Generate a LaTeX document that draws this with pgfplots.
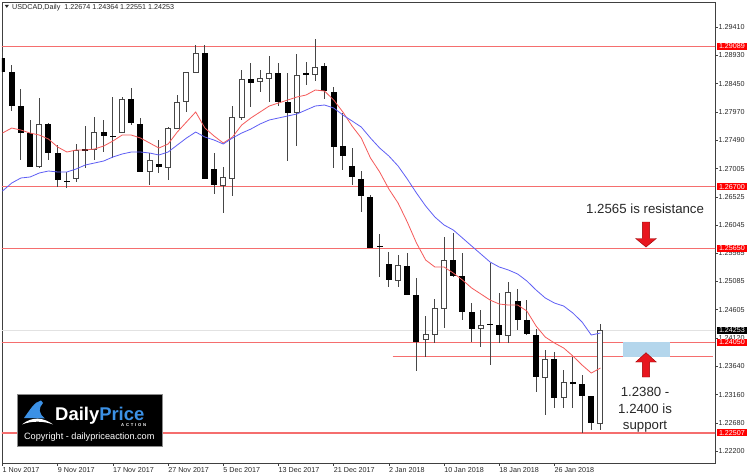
\documentclass[border=0pt]{standalone}
\usepackage{pgfplots}
\pgfplotsset{compat=1.18}
\usepackage{pgfplotstable}
\usepackage{fontspec}
\setmainfont{Liberation Sans}
\definecolor{hl}{RGB}{245,110,110}
\definecolor{mared}{RGB}{245,90,90}
\definecolor{mablue}{RGB}{95,95,245}
\definecolor{wick}{RGB}{70,70,70}
\definecolor{zone}{RGB}{180,214,236}
\definecolor{arrowred}{RGB}{232,22,30}
\definecolor{logoblue}{RGB}{60,145,230}
\definecolor{txt}{RGB}{40,40,40}
\definecolor{pline}{RGB}{226,226,226}
\pgfplotsset{nomarks/.style={only marks, mark=o, mark size=0.5pt, mark options={opacity=0, draw opacity=0, fill opacity=0}}}

% falling (black) candles: bar index, open, high, low, close
\pgfplotstableread{
i o h l c
0 1.28888 1.28990 1.28547 1.28649
1 1.28649 1.28769 1.27986 1.28071
2 1.28071 1.28360 1.27152 1.27611
3 1.27611 1.27833 1.27033 1.27033
5 1.27765 1.27780 1.27152 1.27271
6 1.27271 1.27407 1.26692 1.26812
7 1.26800 1.26948 1.26675 1.26785
9 1.27330 1.27730 1.27016 1.27315
11 1.27628 1.27833 1.27288 1.27560
12 1.27565 1.28224 1.27186 1.27555
14 1.28190 1.28377 1.27747 1.27782
15 1.27765 1.27867 1.26948 1.26948
17 1.27084 1.27492 1.26931 1.27033
22 1.28973 1.29109 1.26829 1.26829
23 1.26999 1.27271 1.26573 1.26726
27 1.28530 1.28803 1.28054 1.28462
30 1.28632 1.28803 1.28071 1.28139
31 1.28139 1.28632 1.27135 1.27952
33 1.28625 1.28820 1.28428 1.28615
35 1.28752 1.28803 1.28190 1.28326
36 1.28309 1.28394 1.27016 1.27373
37 1.27390 1.27952 1.26982 1.27220
38 1.27050 1.27356 1.26726 1.26863
39 1.26829 1.26965 1.26267 1.26539
40 1.26522 1.26556 1.25654 1.25654
41 1.25695 1.25893 1.25161 1.25680
42 1.25382 1.25586 1.24991 1.25110
44 1.25348 1.25569 1.24855 1.24855
45 1.24855 1.25144 1.23561 1.24055
49 1.25450 1.25910 1.25161 1.25178
50 1.25178 1.25569 1.24429 1.24565
51 1.24565 1.24718 1.24055 1.24276
53 1.24368 1.25399 1.23663 1.24355
54 1.24344 1.24889 1.24038 1.24174
56 1.24752 1.24957 1.24259 1.24429
57 1.24429 1.24769 1.24174 1.24191
58 1.24174 1.24276 1.23204 1.23459
60 1.23766 1.23885 1.22932 1.23102
62 1.23364 1.23800 1.22932 1.23350
63 1.23340 1.23493 1.22507 1.23136
64 1.23136 1.23136 1.22557 1.22676
}\bcandles

% rising (white) candles: bar index, open, high, low, close
\pgfplotstableread{
i o h l c
4 1.27033 1.28207 1.27016 1.27765
8 1.26829 1.27424 1.26778 1.27322
10 1.27322 1.27884 1.27152 1.27628
13 1.27628 1.28224 1.27628 1.28190
16 1.26948 1.27271 1.26726 1.27152
18 1.27033 1.27713 1.26812 1.27696
19 1.27696 1.28258 1.27696 1.28139
20 1.28139 1.28649 1.27969 1.28649
21 1.28649 1.29109 1.28649 1.28973
24 1.26726 1.27033 1.26250 1.26863
25 1.26846 1.28071 1.26539 1.27884
26 1.27884 1.28683 1.27833 1.28530
28 1.28479 1.28683 1.28309 1.28547
29 1.28547 1.28922 1.28139 1.28632
32 1.27952 1.28956 1.27390 1.28598
34 1.28615 1.29211 1.28496 1.28734
43 1.25110 1.25535 1.24991 1.25365
46 1.24089 1.24497 1.23800 1.24191
47 1.24191 1.24786 1.24038 1.24633
48 1.24633 1.25842 1.24293 1.25450
52 1.24293 1.24599 1.23970 1.24344
55 1.24174 1.25076 1.24038 1.24906
59 1.23459 1.23919 1.22812 1.23766
61 1.23102 1.23578 1.22932 1.23374
65 1.22674 1.24364 1.22551 1.24253
}\wcandles

\pgfplotstableread{
i v
0 1.27611
1 1.27696
2 1.27662
3 1.27611
4 1.27577
5 1.27509
6 1.27373
7 1.27288
8 1.27322
9 1.27322
10 1.27339
11 1.27390
12 1.27475
13 1.27577
14 1.27577
15 1.27526
16 1.27441
17 1.27356
18 1.27424
19 1.27628
20 1.27799
21 1.27969
22 1.27696
23 1.27560
24 1.27441
25 1.27543
26 1.27747
27 1.27867
28 1.27969
29 1.28071
30 1.28122
31 1.28173
32 1.28224
33 1.28258
34 1.28343
35 1.28326
36 1.28173
37 1.27969
38 1.27730
39 1.27526
40 1.27186
41 1.26948
42 1.26658
43 1.26420
44 1.26097
45 1.25739
46 1.25450
47 1.25331
48 1.25331
49 1.25229
50 1.25110
51 1.24974
52 1.24872
53 1.24769
54 1.24701
55 1.24684
56 1.24684
57 1.24582
58 1.24327
59 1.24139
60 1.24038
61 1.23953
62 1.23817
63 1.23663
64 1.23527
65 1.23612
}\redma

\pgfplotstableread{
i v
0 1.26624
1 1.26760
2 1.26846
3 1.26863
4 1.26931
5 1.26965
6 1.26948
7 1.26948
8 1.26999
9 1.27067
10 1.27101
11 1.27135
12 1.27203
13 1.27254
14 1.27288
15 1.27288
16 1.27271
17 1.27237
18 1.27288
19 1.27407
20 1.27526
21 1.27628
22 1.27543
23 1.27492
24 1.27424
25 1.27526
26 1.27611
27 1.27679
28 1.27765
29 1.27833
30 1.27867
31 1.27901
32 1.27935
33 1.28003
34 1.28071
35 1.28088
36 1.28037
37 1.27918
38 1.27816
39 1.27713
40 1.27526
41 1.27356
42 1.27220
43 1.27050
44 1.26829
45 1.26590
46 1.26369
47 1.26182
48 1.26046
49 1.25961
50 1.25825
51 1.25688
52 1.25552
53 1.25416
54 1.25331
55 1.25280
56 1.25212
57 1.25093
58 1.24940
59 1.24804
60 1.24718
61 1.24667
62 1.24548
63 1.24395
64 1.24174
65 1.24208
}\bluema

\begin{document}
\begin{tikzpicture}
\useasboundingbox (0,0) rectangle (750bp,475bp);
\fill[white] (0,0) rectangle (750bp,475bp);
\begin{axis}[
  at={(2bp,12bp)}, anchor=south west,
  width=713bp, height=461bp, scale only axis,
  xmin=-0.054, xmax=77.45, ymin=1.21996, ymax=1.29841,
  enlargelimits=false,
  axis line style={black!75, line width=0.8bp},
  xtick={0,6,...,60},
  xticklabels={1 Nov 2017, 9 Nov 2017, 17 Nov 2017, 27 Nov 2017, 5 Dec 2017, 13 Dec 2017, 21 Dec 2017, 2 Jan 2018, 10 Jan 2018, 18 Jan 2018, 26 Jan 2018},
  xtick pos=bottom, ytick pos=right, tick align=outside,
  major tick length=2.5bp,
  tick style={black!75, line width=0.6bp},
  ytick={1.29410,1.28930,1.28450,1.27970,1.27490,1.27005,1.26525,1.26045,1.25565,1.25085,1.24605,1.24120,1.23640,1.23160,1.22680,1.22200},
  yticklabels={1.29410,1.28930,1.28450,1.27970,1.27490,1.27005,1.26525,1.26045,1.25565,1.25085,1.24605,1.24120,1.23640,1.23160,1.22680,1.22200},
  yticklabel pos=right,
  scaled y ticks=false,
  tick label style={font=\fontsize{7.2}{8}\selectfont, text=txt, inner sep=0pt},
  xticklabel style={anchor=north west, yshift=-1.5bp},
  yticklabel style={anchor=west, xshift=1bp},
]
% price line and horizontal levels
\addplot[pline, line width=1.5bp, forget plot] coordinates {(-1,1.24253) (80,1.24253)};
\addplot[hl, line width=1.1bp, forget plot] coordinates {(-1,1.29089) (80,1.29089)};
\addplot[hl, line width=1.1bp, forget plot] coordinates {(-1,1.26700) (80,1.26700)};
\addplot[hl, line width=1.1bp, forget plot] coordinates {(-1,1.25650) (80,1.25650)};
\addplot[hl, line width=1.1bp, forget plot] coordinates {(-1,1.24050) (80,1.24050)};
\addplot[hl, line width=1.1bp, forget plot] coordinates {(-1,1.22507) (80,1.22507)};
\addplot[hl, line width=1.0bp, forget plot] coordinates {(42.4,1.2380) (77.2,1.2380)};
% support zone
\addplot[fill=zone, draw=none, forget plot] coordinates {(67.48,1.2405) (72.55,1.2405) (72.55,1.2380) (67.48,1.2380)} -- cycle;
% wicks
\addplot[nomarks, forget plot, error bars/.cd, y dir=both, y explicit, error mark=none, error bar style={wick, line width=0.8bp}]
  table[x=i, y expr={(\thisrow{h}+\thisrow{l})/2}, y error expr={(\thisrow{h}-\thisrow{l})/2}] {\bcandles};
\addplot[nomarks, forget plot, error bars/.cd, y dir=both, y explicit, error mark=none, error bar style={wick, line width=0.8bp}]
  table[x=i, y expr={(\thisrow{h}+\thisrow{l})/2}, y error expr={(\thisrow{h}-\thisrow{l})/2}] {\wcandles};
% black bodies
\addplot[nomarks, forget plot, error bars/.cd, y dir=both, y explicit, error mark=none, error bar style={black, line width=6bp}]
  table[x=i, y expr={(\thisrow{o}+\thisrow{c})/2}, y error expr={max((\thisrow{o}-\thisrow{c})/2,0.00009)}] {\bcandles};
% white bodies: outline then fill
\addplot[nomarks, forget plot, error bars/.cd, y dir=both, y explicit, error mark=none, error bar style={wick, line width=6bp}]
  table[x=i, y expr={(\thisrow{o}+\thisrow{c})/2}, y error expr={(\thisrow{c}-\thisrow{o})/2+0.00008}] {\wcandles};
\addplot[nomarks, forget plot, error bars/.cd, y dir=both, y explicit, error mark=none, error bar style={white, line width=4.0bp}]
  table[x=i, y expr={(\thisrow{o}+\thisrow{c})/2}, y error expr={max((\thisrow{c}-\thisrow{o})/2-0.00009,0.00002)}] {\wcandles};
% moving averages
\addplot[mared, line width=0.8bp, mark=none] table[x=i, y=v] {\redma};
\addplot[mablue, line width=0.8bp, mark=none] table[x=i, y=v] {\bluema};
% arrows
\addplot[fill=arrowred, draw=red!60!black, line width=0.4bp, forget plot] coordinates {(69.55,1.26097) (70.35,1.26097) (70.35,1.25816) (71.07,1.25816) (69.95,1.25671) (68.83,1.25816) (69.55,1.25816)} -- cycle;
\addplot[fill=arrowred, draw=red!60!black, line width=0.4bp, forget plot] coordinates {(69.95,1.23873) (71.07,1.23714) (70.35,1.23714) (70.35,1.23459) (69.55,1.23459) (69.55,1.23714) (68.83,1.23714)} -- cycle;
% annotations
\node[font=\fontsize{13.3}{16.6}\selectfont, text=txt, inner sep=0pt] at (axis cs:69.85,1.26318) {1.2565 is resistance};
\node[font=\fontsize{13.3}{16.6}\selectfont, text=txt, inner sep=0pt, align=center] at (axis cs:69.85,1.22898) {1.2380 -\\1.2400 is\\support};
% anchors for price boxes
\coordinate (r1) at (axis cs:77.45,1.29089);
\coordinate (r2) at (axis cs:77.45,1.26700);
\coordinate (r3) at (axis cs:77.45,1.25650);
\coordinate (r4) at (axis cs:77.45,1.24050);
\coordinate (r5) at (axis cs:77.45,1.22507);
\coordinate (b1) at (axis cs:77.45,1.24253);
\end{axis}
\foreach \c/\t in {r1/1.29089, r2/1.26700, r3/1.25650, r4/1.24050, r5/1.22507}
  \node[fill=red, text=white, font=\fontsize{7.2}{8}\selectfont, anchor=west, inner xsep=2.2bp, inner ysep=0.9bp, text height=5.2bp, text depth=0pt] at ([xshift=1.6bp]\c) {\t};
\node[fill=black, text=white, font=\fontsize{7.2}{8}\selectfont, anchor=west, inner xsep=2.2bp, inner ysep=0.9bp, text height=5.2bp, text depth=0pt] at ([xshift=1.6bp]b1) {1.24253};

\begin{scope}[x=1bp, y=-1bp, shift={(0,475bp)}]
  % header
  \fill[black!85] (4.8,5.0) -- (8.8,5.0) -- (6.8,7.8) -- cycle;
  \node[anchor=west, font=\fontsize{7.2}{8}\selectfont, text=black!85, inner sep=0pt] at (12,7.3) {USDCAD,Daily\hspace{4bp}1.22674 1.24364 1.22551 1.24253};
  % logo
  \fill[black] (17,394) rectangle (162,446);
  \draw[black!45, line width=0.6bp] (17,394) rectangle (162,446);
  \fill[logoblue] (24,418) .. controls (30,410) and (34,402) .. (41,400.5) -- (43,403) .. controls (38.5,408) and (38,413) .. (45,418.5) -- cycle;
  \fill[white] (22,424.5) .. controls (32,416) and (44,417.5) .. (53,424.5) .. controls (44,421) and (32,420.5) .. (22,424.5) -- cycle;
  \node[anchor=base west, inner sep=0pt, font=\fontsize{18.5}{20}\selectfont\bfseries] at (55,420.5) {\textcolor{white}{Daily}\textcolor{logoblue}{Price}};
  \node[anchor=base west, inner sep=0pt, font=\fontsize{4.2}{5}\selectfont\bfseries, text=white] at (121,426.5) {A\hspace{1.8bp}C\hspace{1.8bp}T\hspace{1.8bp}I\hspace{1.8bp}O\hspace{1.8bp}N};
  \node[inner sep=0pt, font=\fontsize{9.2}{10}\selectfont, text=white] at (89.3,437.3) {Copyright - dailypriceaction.com};
\end{scope}
\end{tikzpicture}
\end{document}
